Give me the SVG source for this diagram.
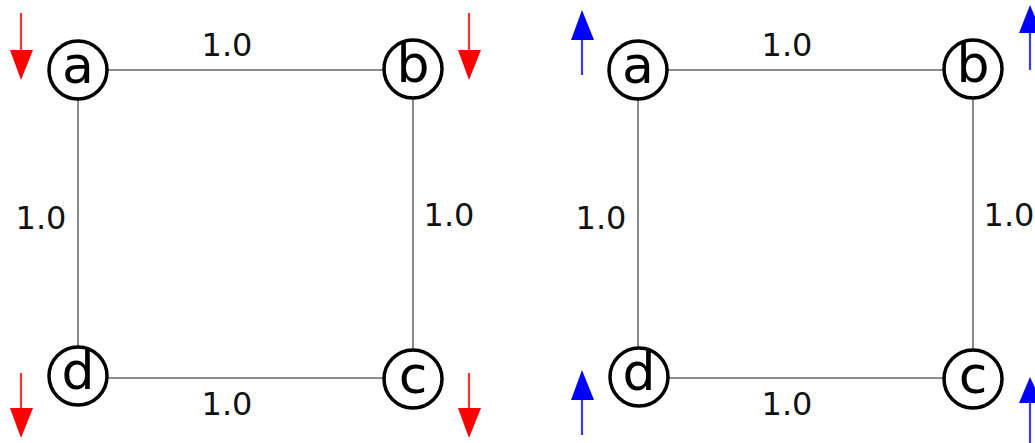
<svg xmlns="http://www.w3.org/2000/svg" width="1035" height="443" viewBox="0 0 1035 443">
<style>
.edge{stroke:#8c8c8c;stroke-width:2;fill:none}
.node circle{fill:#fff;stroke:#000;stroke-width:3.5}
.node text{font-family:"DejaVu Sans",Verdana,sans-serif;font-size:52px;text-anchor:middle;fill:#000}
.lbl{font-family:"DejaVu Sans",Verdana,sans-serif;font-size:32px;text-anchor:middle;fill:#111}
.red line{stroke:#ff3030;stroke-width:2.2}
.red polygon{fill:#ff0000}
.blue line{stroke:#3a3aff;stroke-width:2.2}
.blue polygon{fill:#0000ff}
</style>
<g id="connectors">
<line class="edge" x1="78" y1="70" x2="413" y2="70"/>
<line class="edge" x1="78" y1="70" x2="78" y2="378"/>
<line class="edge" x1="413" y1="70" x2="413" y2="378"/>
<line class="edge" x1="78" y1="378" x2="413" y2="378"/>
<line class="edge" x1="638" y1="70" x2="973" y2="70"/>
<line class="edge" x1="638" y1="70" x2="638" y2="378"/>
<line class="edge" x1="973" y1="70" x2="973" y2="378"/>
<line class="edge" x1="638" y1="378" x2="973" y2="378"/>
</g>
<g id="labels">
<text class="lbl" x="227" y="56">1.0</text>
<text class="lbl" x="41" y="229">1.0</text>
<text class="lbl" x="449" y="226">1.0</text>
<text class="lbl" x="227" y="415">1.0</text>
<text class="lbl" x="787" y="56">1.0</text>
<text class="lbl" x="601" y="229">1.0</text>
<text class="lbl" x="1009" y="226">1.0</text>
<text class="lbl" x="787" y="415">1.0</text>
</g>
<g id="node-a1" class="node"><circle cx="78" cy="70" r="29"/><text x="78" y="83">a</text></g>
<g id="node-b1" class="node"><circle cx="413" cy="69" r="29"/><text x="413" y="82">b</text></g>
<g id="node-d1" class="node"><circle cx="78" cy="376" r="29"/><text x="78" y="389">d</text></g>
<g id="node-c1" class="node"><circle cx="413" cy="379" r="29"/><text x="413" y="393">c</text></g>
<g id="node-a2" class="node"><circle cx="638" cy="70" r="29"/><text x="638" y="83">a</text></g>
<g id="node-b2" class="node"><circle cx="973" cy="69" r="29"/><text x="973" y="82">b</text></g>
<g id="node-d2" class="node"><circle cx="639" cy="377" r="29"/><text x="639" y="390">d</text></g>
<g id="node-c2" class="node"><circle cx="973" cy="379" r="29"/><text x="973" y="393">c</text></g>
<g id="spin-left" class="red">
<line x1="21" y1="13" x2="21" y2="55"/><polygon points="10,50 33,50 21,80"/>
<line x1="469" y1="13" x2="469" y2="55"/><polygon points="458,50 481,50 469,80"/>
<line x1="21" y1="373" x2="21" y2="413"/><polygon points="10,408 33,408 21,438"/>
<line x1="469" y1="373" x2="469" y2="413"/><polygon points="458,408 481,408 469,438"/>
</g>
<g id="spin-right" class="blue">
<line x1="582" y1="35" x2="582" y2="75"/><polygon points="571,40 594,40 582,10"/>
<line x1="1030" y1="28" x2="1030" y2="70"/><polygon points="1019,33 1042,33 1030,5"/>
<line x1="582" y1="395" x2="582" y2="435"/><polygon points="571,400 594,400 582,370"/>
<line x1="1030" y1="398" x2="1030" y2="445"/><polygon points="1019,403 1042,403 1030,377"/>
</g>
</svg>
